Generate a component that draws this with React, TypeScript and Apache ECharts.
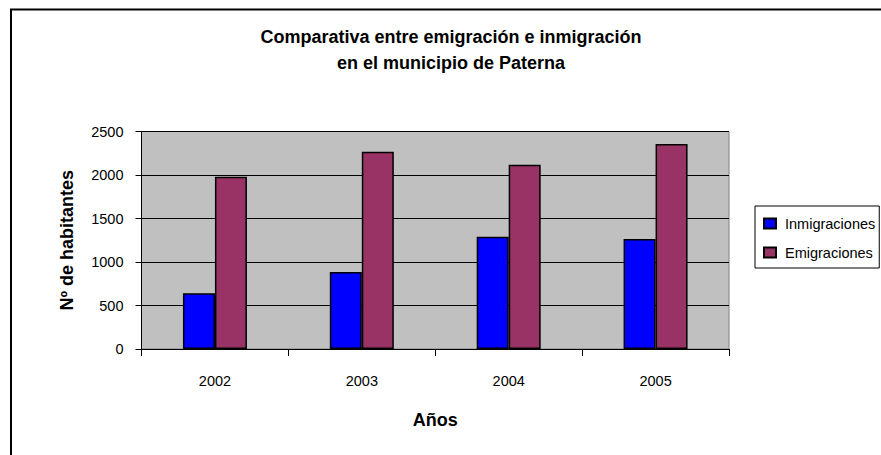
import React, { useEffect, useRef } from "react";
import * as echarts from "echarts";

const years = ["2002", "2003", "2004", "2005"];
const inmigraciones = [640, 885, 1290, 1265];
const emigraciones = [1980, 2268, 2118, 2355];
const seriesNames = ["Inmigraciones", "Emigraciones"];
const titleLines = ["Comparativa entre emigración e inmigración", "en el municipio de Paterna"];
const yTitle = "Nº de habitantes";
const xTitle = "Años";

const FONT = "'Liberation Sans', Arial, sans-serif";

export default function App() {
  const ref = useRef<HTMLDivElement>(null);
  useEffect(() => {
    if (!ref.current) return;
    const chart = echarts.init(ref.current, null, { renderer: "svg" });
    chart.setOption({
      animation: false,
      backgroundColor: "#fff",
      textStyle: { fontFamily: FONT, color: "#000" },
      title: {
        text: titleLines.join("\n"),
        left: 451,
        top: 24,
        padding: 0,
        textAlign: "center",
        textStyle: { fontFamily: FONT, fontSize: 18, fontWeight: "bold", color: "#000", lineHeight: 26 },
      },
      graphic: [
        {
          type: "rect",
          shape: { x: 11, y: 9.5, width: 900, height: 500 },
          style: { fill: "none", stroke: "#000", lineWidth: 2 },
          z: 100,
        },
      ],
      legend: {
        orient: "vertical",
        left: 755,
        top: 206,
        width: 125,
        padding: [10, 4, 8, 8],
        itemGap: 14,
        itemWidth: 12,
        itemHeight: 10,
        borderColor: "#000",
        borderWidth: 1,
        icon: "rect",
        textStyle: { fontFamily: FONT, fontSize: 14.5, color: "#000", padding: [0, 0, 0, 4] },
        data: seriesNames,
      },
      grid: {
        left: 141.5,
        right: 152,
        top: 131.5,
        bottom: 106,
        show: true,
        backgroundColor: "#C0C0C0",
        borderColor: "#808080",
        borderWidth: 1,
      },
      xAxis: {
        type: "category",
        data: years,
        boundaryGap: true,
        name: xTitle,
        nameLocation: "middle",
        nameGap: 62,
        nameTextStyle: { fontFamily: FONT, fontSize: 18, fontWeight: "bold", color: "#000" },
        axisLine: { lineStyle: { color: "#000", width: 1 } },
        axisTick: { show: true, length: 7, alignWithLabel: false, lineStyle: { color: "#000" } },
        axisLabel: { margin: 24, fontFamily: FONT, fontSize: 14.5, color: "#000" },
        splitLine: { show: false },
      },
      yAxis: {
        type: "value",
        min: 0,
        max: 2500,
        interval: 500,
        name: yTitle,
        nameLocation: "middle",
        nameRotate: 90,
        nameGap: 66,
        nameTextStyle: { fontFamily: FONT, fontSize: 18, fontWeight: "bold", color: "#000" },
        axisLine: { show: true, lineStyle: { color: "#000", width: 1 } },
        axisTick: { show: true, length: 6, lineStyle: { color: "#000" } },
        axisLabel: {
          margin: 18,
          fontFamily: FONT,
          fontSize: 14.5,
          color: "#000",
          formatter: (v: number) => String(v),
        },
        splitLine: { show: true, lineStyle: { color: "#000", width: 1 } },
      },
      series: [
        {
          name: seriesNames[0],
          type: "bar",
          data: inmigraciones,
          barWidth: 32,
          barGap: "0%",
          itemStyle: { color: "#0000FF", borderColor: "#000", borderWidth: 1.5 },
        },
        {
          name: seriesNames[1],
          type: "bar",
          data: emigraciones,
          barWidth: 32,
          barGap: "0%",
          itemStyle: { color: "#993366", borderColor: "#000", borderWidth: 1.5 },
        },
      ],
    });
    return () => chart.dispose();
  }, []);
  return (
    <div
      ref={ref}
      style={{ position: "fixed", left: 0, top: 0, width: 881, height: 455 }}
    />
  );
}
